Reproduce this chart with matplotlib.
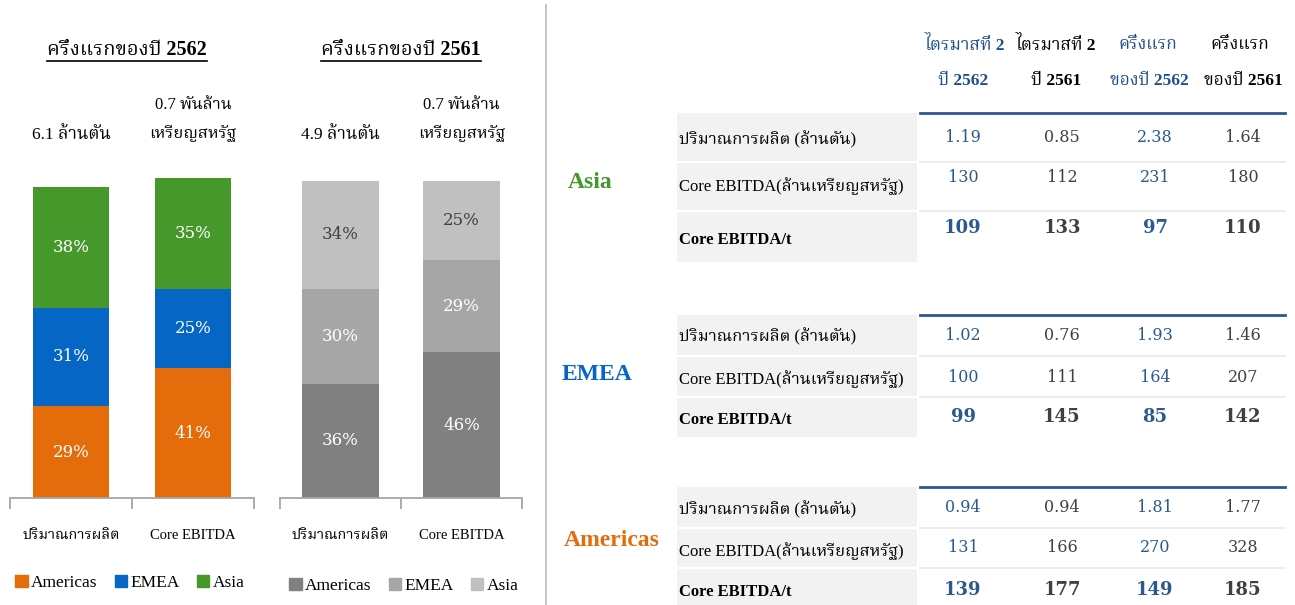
import matplotlib
matplotlib.use('Agg')
import matplotlib.pyplot as plt
from matplotlib import font_manager
from matplotlib.ft2font import FT2Font
from matplotlib.patches import Patch, Rectangle

# ---- data ----
segments = ['Americas', 'EMEA', 'Asia']
categories = ['ปริมาณการผลิต', 'Core EBITDA']
share_2562 = [[29, 41], [31, 25], [38, 35]]   # Americas, EMEA, Asia
share_2561 = [[36, 46], [30, 29], [34, 25]]
title_2562 = 'ครึ่งแรกของปี 2562'
title_2561 = 'ครึ่งแรกของปี 2561'
totals_2562 = ['6.1 ล้านตัน', '0.7 พันล้าน\nเหรียญสหรัฐ']
totals_2561 = ['4.9 ล้านตัน', '0.7 พันล้าน\nเหรียญสหรัฐ']

col_headers = ['ไตรมาสที่ 2\nปี 2562', 'ไตรมาสที่ 2\nปี 2561',
               'ครึ่งแรก\nของปี 2562', 'ครึ่งแรก\nของปี 2561']
row_labels = ['ปริมาณการผลิต (ล้านตัน)', 'Core EBITDA(ล้านเหรียญสหรัฐ)', 'Core EBITDA/t']
regions = ['Asia', 'EMEA', 'Americas']
asia_vals = [['1.19', '0.85', '2.38', '1.64'],
             ['130', '112', '231', '180'],
             ['109', '133', '97', '110']]
emea_vals = [['1.02', '0.76', '1.93', '1.46'],
             ['100', '111', '164', '207'],
             ['99', '145', '85', '142']]
americas_vals = [['0.94', '0.94', '1.81', '1.77'],
                 ['131', '166', '270', '328'],
                 ['139', '177', '149', '185']]

# ---- fonts: find something that can draw Thai ----
def find_thai_font():
    preferred = ['Noto Serif Thai', 'Noto Sans Thai', 'Noto Sans Thai Looped', 'Norasi',
                 'Kinnari', 'Loma', 'Garuda', 'Laksaman', 'Tlwg Typo']
    found = {}
    for f in font_manager.fontManager.ttflist:
        if f.name in found:
            continue
        try:
            cmap = FT2Font(f.fname).get_charmap()
        except Exception:
            continue
        if 0x0E01 in cmap and 0x0E49 in cmap:
            found[f.name] = f.fname
    for p in preferred:
        if p in found:
            return p
    return next(iter(found), 'DejaVu Sans')

thai = find_thai_font()
SERIF = ['Liberation Serif', thai]
NUM = ['DejaVu Serif', thai]

W, H = 1295, 605
fig = plt.figure(figsize=(W / 100, H / 100), dpi=100)

orange, blue, green = '#E46C0A', '#0566C6', '#46982B'
grays = ['#808080', '#A6A6A6', '#C0C0C0']


def px_axes(x0, x1, ybase, ytop):
    return fig.add_axes([x0 / W, 1 - ybase / H, (x1 - x0) / W, (ybase - ytop) / H])


def stacked(ax, shares, colors, txtcolors, totals):
    xs = range(len(categories))
    bottom = [0] * len(categories)
    for vals, c, tc in zip(shares, colors, txtcolors):
        bars = ax.bar(xs, vals, width=0.63, bottom=bottom, color=c)
        for b, v, bt in zip(bars, vals, bottom):
            ax.text(b.get_x() + b.get_width() / 2, bt + v / 2, f'{v}%', ha='center',
                    va='center', color=tc, fontsize=12, family=NUM)
        bottom = [a + v for a, v in zip(bottom, vals)]
    ax.set_xlim(-0.5, 1.5)
    ax.set_ylim(0, 110)
    ax.set_facecolor('none')
    for s in ['top', 'left', 'right']:
        ax.spines[s].set_visible(False)
    ax.spines['bottom'].set_color('#A6A6A6')
    ax.spines['bottom'].set_linewidth(1.3)
    ax.set_yticks([])
    ax.set_xticks(list(xs))
    ax.set_xticklabels(categories, fontsize=10.5, family=SERIF)
    ax.tick_params(axis='x', which='major', length=0, pad=22)
    ax.set_xticks([-0.5, 0.5, 1.5], minor=True)
    ax.tick_params(axis='x', which='minor', length=8, width=1.3, color='#A6A6A6')
    # totals above the bars
    ax.text(0, 114.5, totals[0], ha='center', va='center', fontsize=12.5,
            family=SERIF, clip_on=False)
    ax.text(1, 119.5, totals[1], ha='center', va='center', fontsize=12,
            family=SERIF, linespacing=1.9, clip_on=False)


ax1 = px_axes(10, 254, 498, 149.3)
stacked(ax1, share_2562, [orange, blue, green], ['white'] * 3, totals_2562)
ax2 = px_axes(280, 522, 498, 149.3)
stacked(ax2, share_2561, grays, ['white', 'white', '#404040'], totals_2561)

fig.legend(handles=[Patch(color=c, label=l) for c, l in zip([orange, blue, green], segments)],
           loc='center', bbox_to_anchor=(130 / W, 1 - 583 / H), ncol=3, frameon=False,
           handlelength=0.7, handleheight=0.7, handletextpad=0.2, columnspacing=1.0,
           prop={'family': SERIF, 'size': 12.5})
fig.legend(handles=[Patch(color=c, label=l) for c, l in zip(grays, segments)],
           loc='center', bbox_to_anchor=(404 / W, 1 - 586 / H), ncol=3, frameon=False,
           handlelength=0.7, handleheight=0.7, handletextpad=0.2, columnspacing=1.0,
           prop={'family': SERIF, 'size': 12.5})

# ---- overlay axes in pixel units for titles and table ----
ov = fig.add_axes([0, 0, 1, 1], zorder=-1)
ov.set_xlim(0, W)
ov.set_ylim(H, 0)
ov.axis('off')

titles = []
for tx, t in [(127, title_2562), (401, title_2561)]:
    titles.append(ov.text(tx, 50, t, ha='center', va='center', fontsize=14.5,
                          fontweight='bold', family=SERIF))

ov.plot([546, 546], [5, 605], color='#BFBFBF', lw=1.3)

hdr_x1 = [965, 1056, 1148, 1240]
hdr_x2 = [963, 1056, 1149, 1243]
val_x = [963, 1062, 1155, 1243]
hdr_colors = ['#1F4E8C', 'black', '#1F4E8C', 'black']
val_colors = ['#2B5A8E', '#404040', '#2B5A8E', '#404040']
for x1, x2, h, c in zip(hdr_x1, hdr_x2, col_headers, hdr_colors):
    top, bot = h.split('\n')
    ov.text(x1, 45, top, ha='center', va='center', fontsize=12.5, fontweight='bold',
            color=c, family=SERIF)
    ov.text(x2, 81, bot, ha='center', va='center', fontsize=12.5, fontweight='bold',
            color=c, family=SERIF)

layout = [
    dict(top=113, bottom=262, rows=[138, 178, 228], labels=[140, 186, 240], seps=[162, 211],
         name=(590, 183), color='#46982B'),
    dict(top=315, bottom=437, rows=[335, 377, 417], labels=[337, 379, 420], seps=[356, 397],
         name=(597, 374), color='#0566C6'),
    dict(top=487, bottom=605, rows=[508, 548, 590], labels=[510, 551, 592], seps=[528, 568],
         name=(612, 540), color='#E46C0A'),
]
for region, vals, lay in zip(regions, [asia_vals, emea_vals, americas_vals], layout):
    ov.add_patch(Rectangle((677, lay['top']), 240, lay['bottom'] - lay['top'],
                           color='#F2F2F2', lw=0))
    ov.plot([920, 1285], [lay['top'], lay['top']], color='#2F5597', lw=2)
    for s in lay['seps']:
        ov.plot([920, 1285], [s, s], color='#EDEDED', lw=1.5)
        ov.plot([677, 917], [s, s], color='white', lw=1.5)
    ov.text(lay['name'][0], lay['name'][1], region, ha='center', va='center',
            fontsize=17, fontweight='bold', color=lay['color'], family=SERIF)
    for i, (lab, ly, ry) in enumerate(zip(row_labels, lay['labels'], lay['rows'])):
        bold = i == 2
        ov.text(679, ly, lab, ha='left', va='center', fontsize=12,
                fontweight='bold' if bold else 'normal', family=SERIF)
        for x, v, c in zip(val_x, vals[i], val_colors):
            ov.text(x, ry, v, ha='center', va='center', fontsize=13 if bold else 11.5,
                    fontweight='bold' if bold else 'normal', color=c, family=NUM)

# underline the chart titles
fig.canvas.draw()
inv = ov.transData.inverted()
for t in titles:
    bb = t.get_window_extent()
    (x0, y0), (x1, _) = inv.transform([(bb.x0, bb.y0), (bb.x1, bb.y1)])
    ov.plot([x0, x1], [y0 + 1, y0 + 1], color='black', lw=1.2)

fig.savefig('out.png', dpi=100)
